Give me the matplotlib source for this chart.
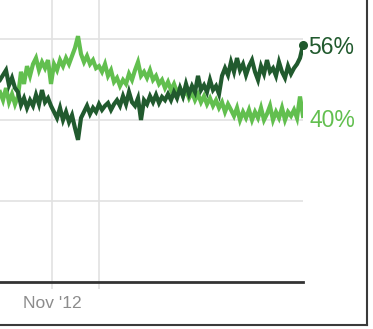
import matplotlib

matplotlib.use("Agg")

import matplotlib.pyplot as plt
import numpy as np
from matplotlib.lines import Line2D

plt.rcParams["font.family"] = ["Liberation Sans", "DejaVu Sans"]

# daily approval readings (%), one point per step on the x axis
approve = [
    49.9, 51.1, 52.3, 48.6, 50.4, 47.9, 46.9, 43.7, 45.4, 43.0,
    44.9, 43.5, 46.2, 43.9, 47.4, 44.4, 45.4, 43.5, 42.0, 40.5,
    43.0, 40.0, 42.0, 39.5, 41.2, 38.0, 35.1, 40.5, 42.0, 43.5,
    41.5, 43.0, 42.0, 43.9, 42.5, 43.5, 44.2, 42.5, 43.9, 44.9,
    43.5, 45.9, 43.9, 46.9, 44.4, 43.5, 45.4, 40.0, 44.9, 43.9,
    45.9, 44.4, 46.2, 44.2, 45.7, 44.9, 46.4, 44.9, 46.9, 45.4,
    47.9, 45.9, 48.9, 46.4, 48.4, 46.9, 50.9, 47.4, 48.6, 46.9,
    49.9, 47.4, 48.4, 46.4, 50.9, 52.8, 51.1, 54.3, 51.9, 55.3,
    52.3, 53.8, 51.1, 53.3, 54.8, 51.9, 49.9, 53.3, 51.4, 54.8,
    51.9, 52.8, 50.9, 54.3, 51.9, 50.4, 53.3, 51.4, 52.8, 53.8,
    55.3, 58.5,
]
disapprove = [
    46.9, 44.9, 47.9, 44.4, 46.4, 43.9, 45.9, 51.9, 48.9, 53.3,
    50.9, 53.8, 55.3, 52.3, 54.3, 52.8, 54.8, 48.9, 53.8, 52.3,
    54.8, 53.3, 55.3, 53.8, 55.8, 57.8, 60.7, 56.3, 54.3, 55.8,
    53.8, 54.8, 52.8, 53.3, 51.9, 53.8, 50.9, 52.3, 49.4, 50.4,
    48.4, 49.9, 48.9, 51.4, 49.9, 52.3, 54.3, 50.9, 51.9, 50.4,
    52.3, 49.9, 50.9, 48.9, 49.9, 47.9, 49.4, 47.4, 48.9, 46.9,
    47.9, 45.9, 47.4, 45.4, 46.9, 44.9, 46.4, 44.4, 45.9, 43.9,
    45.4, 43.5, 44.9, 43.0, 44.4, 42.0, 43.9, 42.5, 41.0, 43.0,
    40.0, 42.0, 40.5, 42.5, 40.0, 42.0, 40.5, 43.0, 40.0, 41.5,
    43.5, 40.0, 42.0, 40.5, 43.0, 40.0, 42.0, 41.0, 42.5, 40.5,
    45.8, 41.0,
]
end_labels = ["56%", "40%"]
month_ticks = [17.33, 33.0]
month_labels = ["Nov '12", ""]
grid_values = [20, 40, 60]

DARK = "#215a2e"
LIGHT = "#62bf4f"

fig = plt.figure(figsize=(3.73, 3.29), dpi=100)
ax = fig.add_axes([0.0, 47 / 329, 303 / 373, 282 / 329])

x = np.arange(len(approve))
ax.plot(x, disapprove, color=LIGHT, linewidth=3.0, solid_joinstyle="miter", zorder=3)
ax.plot(x, approve, color=DARK, linewidth=3.0, solid_joinstyle="miter", zorder=4)
ax.plot(x[-1], approve[-1], "o", color=DARK, markersize=5.5, clip_on=False, zorder=5)

ax.set_xlim(0, len(approve) - 1)
ax.set_ylim(0, 69.63)

for v in grid_values:
    ax.axhline(v, color="#e2e2e2", linewidth=1.2, zorder=1)
for t in month_ticks:
    ax.axvline(t, color="#e2e2e2", linewidth=1.2, zorder=1)

ax.set_xticks(month_ticks)
ax.set_xticklabels(month_labels, color="#8c8c8c", fontsize=12.5)
ax.tick_params(axis="x", length=5, width=1.2, color="#e2e2e2", pad=5)
ax.set_yticks([])
for side in ["top", "right", "left"]:
    ax.spines[side].set_visible(False)
ax.spines["bottom"].set_color("#333333")
ax.spines["bottom"].set_linewidth(2)
ax.spines["bottom"].set_zorder(6)

ax.annotate(end_labels[0], (x[-1], approve[-1]), xytext=(4, -1.5), textcoords="offset points",
            color=DARK, fontsize=16.5, va="center", ha="left", annotation_clip=False)
ax.annotate(end_labels[1], (x[-1], disapprove[-1]), xytext=(5, -3), textcoords="offset points",
            color=LIGHT, fontsize=16.5, va="center", ha="left", annotation_clip=False)

# screenshot frame on the right and bottom
fig.add_artist(Line2D([367 / 373, 367 / 373], [4 / 329, 1], color="#3a3a3a", linewidth=1.5))
fig.add_artist(Line2D([0, 367 / 373], [4 / 329, 4 / 329], color="#3a3a3a", linewidth=1.5))

fig.savefig("out.png", dpi=100)
